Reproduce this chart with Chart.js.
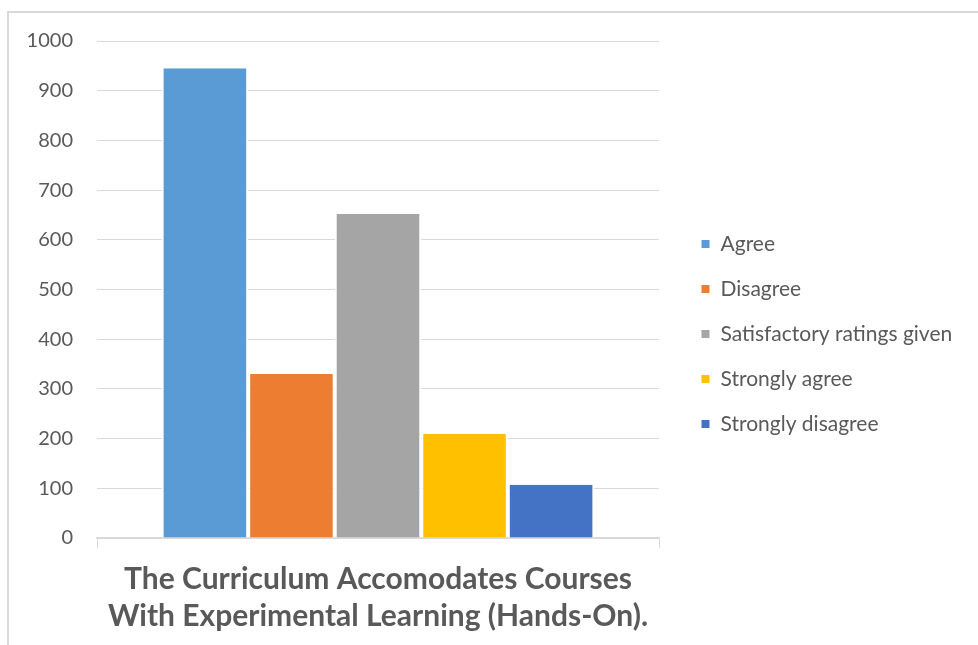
<!DOCTYPE html>
<html>
<head>
<meta charset="utf-8">
<script src="https://cdn.jsdelivr.net/npm/chart.js@4/dist/chart.umd.min.js"></script>
<style>
  body { margin: 0; background: #ffffff; }
  #wrap { position: relative; width: 978px; height: 645px; overflow: hidden; }
  #frame { position: absolute; left: 7px; top: 11px; width: 2000px; height: 2000px;
           border-left: 2px solid #d9d9d9; border-top: 2px solid #d9d9d9; }
  #grafico { position: absolute; left: 0; top: 0; }
</style>
</head>
<body>
<div id="wrap">
  <div id="frame"></div>
  <canvas id="grafico" width="978" height="645"></canvas>
</div>
<script>
const categorias = [["The Curriculum Accomodates Courses", "With Experimental Learning (Hands-On)."]];
const series = ["Agree", "Disagree", "Satisfactory ratings given", "Strongly agree", "Strongly disagree"];
const valores = [945, 330, 652, 210, 107];
const cores = ["#5b9bd5", "#ed7d31", "#a5a5a5", "#ffc000", "#4472c4"];
const yTicks = [0, 100, 200, 300, 400, 500, 600, 700, 800, 900, 1000];

const fonte = "Lato, 'Open Sans', sans-serif";
const cinza = "#595959";

let datasets = [];
for (let i = 0; i < series.length; i++) {
  datasets.push({
    label: series[i],
    data: [valores[i]],
    backgroundColor: cores[i],
    borderColor: "#ffffff",
    borderWidth: { left: 2, right: 2, top: 0, bottom: 0 },
    borderSkipped: false,
    categoryPercentage: 0.77,
    barPercentage: 1.0
  });
}

// empurra a legenda um pouco para a direita/cima
const ajusteLegenda = {
  id: "ajusteLegenda",
  beforeInit(chart) {
    const fitOriginal = chart.legend.fit;
    chart.legend.fit = function () {
      fitOriginal.bind(chart.legend)();
      this.width = 978 - 659;
    };
  },
  afterLayout(chart) {
    const l = chart.legend;
    l.left += 18;
    l.top -= 9;
    l.bottom -= 9;
  }
};

new Chart(document.getElementById("grafico"), {
  type: "bar",
  data: { labels: categorias, datasets: datasets },
  options: {
    responsive: false,
    animation: false,
    layout: { padding: { top: 41, left: 0, right: 0, bottom: 0 } },
    scales: {
      x: {
        grid: { display: true, drawOnChartArea: false, color: "#d9d9d9", tickLength: 10, offset: true },
        border: { display: true, color: "#d9d9d9", width: 1.5 },
        ticks: {
          color: cinza,
          font: { family: fonte, size: 30, weight: "bold", lineHeight: 1.24 },
          padding: 13,
          maxRotation: 0
        },
        afterFit(scale) { scale.height = 645 - 538; }
      },
      y: {
        min: 0,
        max: 1000,
        grid: { color: "#d9d9d9", lineWidth: 1, drawTicks: false },
        border: { display: false },
        afterBuildTicks(scale) { scale.ticks = yTicks.map(v => ({ value: v })); },
        ticks: {
          color: cinza,
          font: { family: fonte, size: 20 },
          padding: 24,
          callback: v => String(v)
        },
        afterFit(scale) { scale.width = 97; }
      }
    },
    plugins: {
      legend: {
        position: "right",
        labels: {
          boxWidth: 9,
          boxHeight: 9,
          padding: 24,
          color: cinza,
          font: { family: fonte, size: 21 }
        }
      },
      tooltip: { enabled: false }
    }
  },
  plugins: [ajusteLegenda]
});
</script>
</body>
</html>
